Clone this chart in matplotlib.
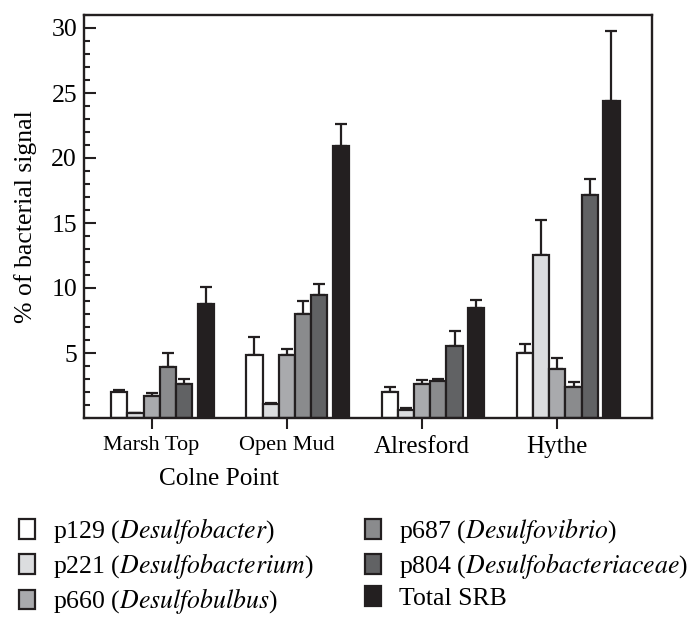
import numpy as np
import matplotlib
matplotlib.use("Agg")
import matplotlib.pyplot as plt
from matplotlib.ticker import MultipleLocator

plt.rcParams['font.family'] = ['Liberation Serif', 'DejaVu Serif']
plt.rcParams['mathtext.fontset'] = 'stix'

sites = ["Marsh Top", "Open Mud", "Alresford", "Hythe"]
series_names = ["p129 ($\\mathit{Desulfobacter}$)", "p221 ($\\mathit{Desulfobacterium}$)",
                "p660 ($\\mathit{Desulfobulbus}$)", "p687 ($\\mathit{Desulfovibrio}$)",
                "p804 ($\\mathit{Desulfobacteriaceae}$)", "Total SRB"]
p129 = [2.0, 4.85, 2.0, 5.0]
p221 = [0.35, 1.05, 0.65, 12.55]
p660 = [1.7, 4.85, 2.6, 3.75]
p687 = [3.95, 8.0, 2.85, 2.4]
p804 = [2.6, 9.5, 5.55, 17.15]
total = [8.8, 20.9, 8.5, 24.35]
err_p129 = [0.15, 1.4, 0.4, 0.7]
err_p221 = [0.05, 0.1, 0.1, 2.65]
err_p660 = [0.2, 0.45, 0.3, 0.9]
err_p687 = [1.05, 1.0, 0.15, 0.4]
err_p804 = [0.4, 0.8, 1.15, 1.25]
err_total = [1.25, 1.7, 0.6, 5.45]

values = [p129, p221, p660, p687, p804, total]
errors = [err_p129, err_p221, err_p660, err_p687, err_p804, err_total]
colors = ["#ffffff", "#dcdddf", "#a9aaad", "#8a8b8d", "#616264", "#231f20"]
ec = "#231f20"

fig = plt.figure(figsize=(6.91, 6.17), dpi=100)
ax = fig.add_axes([84/691, 1-418/617, (652-84)/691, (418-15)/617])

x = np.arange(len(sites))
w = 0.12
offsets = [-2*w, -w, 0, w, 2*w, 2.5*w + 0.04 + 0.5*w]
handles = []
for vals, errs, col, off, name in zip(values, errors, colors, offsets, series_names):
    b = ax.bar(x + off, vals, width=w, color=col, edgecolor=ec, linewidth=1.6,
               label=name, zorder=2)
    ax.errorbar(x + off, vals, yerr=[np.zeros(len(errs)), errs], fmt='none',
                ecolor=ec, elinewidth=1.6, capsize=4.5, capthick=1.6, zorder=1)
    handles.append(b)

ax.set_xlim(-0.5, 3.7)
ax.set_ylim(0, 31)
ax.set_xticks(x)
ax.set_xticklabels(sites)
for lbl, fs in zip(ax.get_xticklabels(), [16, 16, 18, 18]):
    lbl.set_fontsize(fs)
ax.tick_params(axis='x', direction='out', length=8, width=1.5, pad=5, color=ec)
ax.set_yticks([5, 10, 15, 20, 25, 30])
ax.yaxis.set_minor_locator(MultipleLocator(1))
ax.tick_params(axis='y', which='major', direction='in', length=8.6, width=1.5,
               labelsize=18.5, pad=5, color=ec)
ax.tick_params(axis='y', which='minor', direction='in', length=4.5, width=1.5, color=ec)
for s in ax.spines.values():
    s.set_linewidth(1.7)
    s.set_color(ec)
ax.set_ylabel("% of bacterial signal", fontsize=18.5, labelpad=10)
ax.text(0.5, -0.152, "Colne Point", transform=ax.get_xaxis_transform(),
        ha='center', va='center', fontsize=18.2)

fig.legend(handles=handles, labels=series_names, loc='upper left',
           bbox_to_anchor=(19/691, 1-516/617), ncol=2, frameon=False, fontsize=18.5,
           handlelength=0.62, handleheight=0.8, handletextpad=0.7,
           columnspacing=2.0, labelspacing=0.2, borderpad=0, borderaxespad=0)

fig.savefig("out.png", dpi=100)
